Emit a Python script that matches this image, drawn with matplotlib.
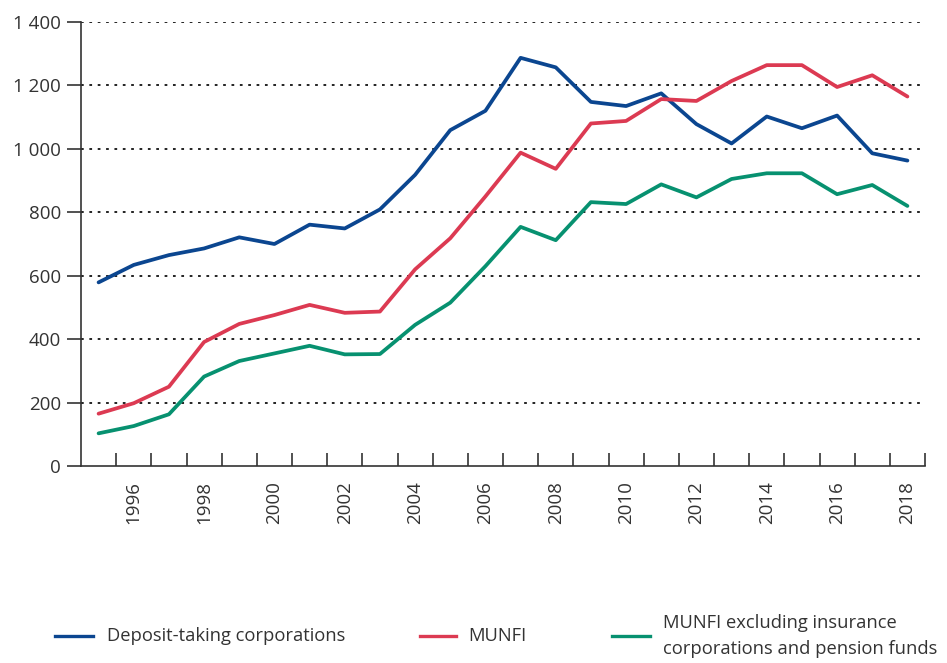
import matplotlib
matplotlib.use("Agg")
import matplotlib.pyplot as plt
from matplotlib.ticker import FuncFormatter, FixedLocator
from matplotlib.lines import Line2D

years = list(range(1995, 2019))
deposit_taking = [579, 634, 665, 686, 721, 700, 761, 749, 809, 918, 1059, 1120,
                  1287, 1257, 1148, 1135, 1175, 1078, 1017, 1102, 1065, 1105, 986, 963]
munfi = [165, 198, 250, 391, 448, 476, 508, 483, 487, 620, 718, 850,
         988, 937, 1080, 1088, 1157, 1151, 1214, 1264, 1264, 1195, 1232, 1165]
munfi_excl = [103, 126, 163, 282, 331, 355, 379, 352, 353, 445, 515, 630,
              754, 712, 832, 826, 888, 847, 905, 923, 923, 857, 886, 820]
labels = ["Deposit-taking corporations", "MUNFI",
          "MUNFI excluding insurance\ncorporations and pension funds"]
colors = ["#0b4690", "#dc3a52", "#079170"]
y_ticks = [0, 200, 400, 600, 800, 1000, 1200, 1400]
x_label_years = list(range(1996, 2019, 2))

plt.rcParams['font.family'] = ['Open Sans', 'DejaVu Sans']
text_color = "#333333"

W, H = 947, 663
fig = plt.figure(figsize=(W/100, H/100), dpi=100)
ax = fig.add_axes([81/W, 1-466/H, (925-81)/W, (466-22)/H])

for vals, c in zip([deposit_taking, munfi, munfi_excl], colors):
    ax.plot(years, vals, color=c, lw=2.7, solid_joinstyle='round', solid_capstyle='round', zorder=3)

ax.set_xlim(1994.5, 2018.5)
ax.set_ylim(0, 1400)

# gridlines (not at 0)
for y in y_ticks[1:]:
    ax.axhline(y, color="#222222", lw=1.4, linestyle=(0, (1.4, 2.9)), zorder=1)

for s in ["top", "right"]:
    ax.spines[s].set_visible(False)
for s in ["left", "bottom"]:
    ax.spines[s].set_color("#333333")
    ax.spines[s].set_linewidth(1.2)

ax.yaxis.set_major_locator(FixedLocator(y_ticks))
ax.yaxis.set_major_formatter(FuncFormatter(lambda v, p: f"{int(v):,}".replace(",", " ")))
ax.tick_params(axis='y', direction='out', length=10, width=1.2, color="#333333",
               labelsize=13.5, labelcolor=text_color, pad=4.5)

ax.set_xticks(x_label_years)
ax.set_xticklabels([str(y) for y in x_label_years], rotation=90)
ax.tick_params(axis='x', which='major', length=0, labelsize=13.5, labelcolor=text_color, pad=11)
ax.set_xticks([y + 0.5 for y in years], minor=True)
ax.tick_params(axis='x', which='minor', direction='in', length=9.5, width=1.2, color="#333333")

# legend drawn manually in figure pixel coordinates
legend_items = [((55, 93), 107), ((420, 456), 468), ((612, 650), 663)]
leg_y = 1 - 636/H
for (hx, tx), lab, c in zip(legend_items, labels, colors):
    fig.add_artist(Line2D([hx[0]/W, hx[1]/W], [leg_y, leg_y], transform=fig.transFigure,
                          color=c, lw=2.4))
    fig.text(tx/W, leg_y, lab, ha='left', va='center', fontsize=13.2, color=text_color,
             linespacing=1.5)

fig.savefig("out.png", dpi=100)
